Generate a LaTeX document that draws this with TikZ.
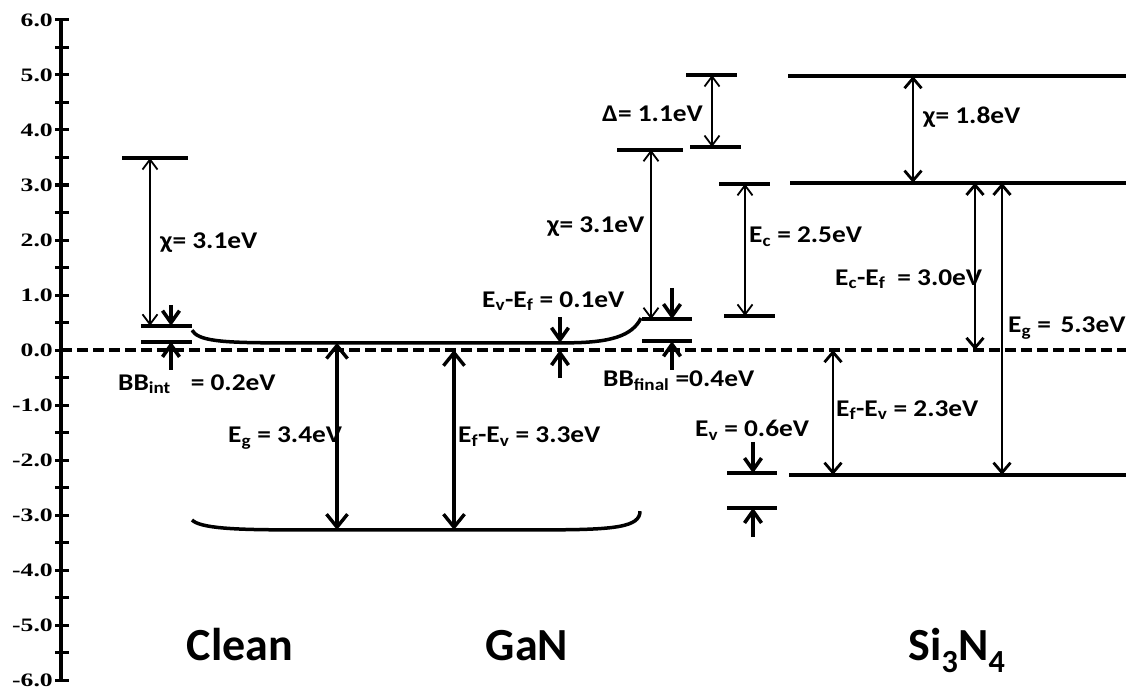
\documentclass[tikz,border=0pt]{standalone}
\usepackage{fontspec}
\setmainfont{Carlito}
\newfontfamily\lblfont[FakeStretch=1.14]{Carlito}
\newfontfamily\axfont[FakeStretch=1.35]{Liberation Serif}
\usetikzlibrary{arrows.meta}

\begin{document}
\begin{tikzpicture}[x=1pt,y=55pt,
    level/.style={line width=3.8pt},
    band/.style={line width=3.5pt},
    fermi/.style={line width=3.4pt,dash pattern=on 11pt off 5pt},
    thinarr/.style={{Straight Barb[length=10pt,width=15pt]}-{Straight Barb[length=10pt,width=15pt]},line width=1.8pt},
    bigarr/.style={{Straight Barb[length=13pt,width=21pt]}-{Straight Barb[length=13pt,width=21pt]},line width=3.4pt},
    siarr/.style={{Straight Barb[length=10pt,width=17pt]}-{Straight Barb[length=10pt,width=17pt]},line width=2.8pt},
    bbarr/.style={-{Straight Barb[length=12pt,width=17pt]},line width=3.6pt},
    lbl/.style={anchor=base west,inner sep=0pt,font=\lblfont\bfseries\fontsize{24}{28}\selectfont},
    mat/.style={anchor=base,inner sep=0pt,font=\bfseries\fontsize{46}{50}\selectfont},
    tick/.style={line width=3pt},
    ticklbl/.style={anchor=east,inner sep=0pt,font=\axfont\bfseries\fontsize{19}{21}\selectfont},
]
\useasboundingbox (0,-6.2) rectangle (1126,6.3636);

% energy scale
\coordinate (axTop) at (61,6);
\coordinate (axBot) at (61,-6);
\draw[line width=3.4pt] (axBot) -- (axTop);
\foreach \e in {-12,...,12}
  \draw[tick] (55,\e/2) -- (69,\e/2);
\foreach \e/\t in {6/6.0,5/5.0,4/4.0,3/3.0,2/2.0,1/1.0,0/0.0,-1/-1.0,-2/-2.0,-3/-3.0,-4/-4.0,-5/-5.0,-6/-6.0}
  \node[ticklbl] (ax\e) at (53,\e) {\t};

% Fermi level
\coordinate (efL) at (61,0);
\coordinate (efR) at (1126,0);
\draw[fermi] (efL) -- (efR);

% clean surface
\draw[level] (122,3.49) -- (188,3.49);
\draw[level] (141,0.44) -- (192,0.44);
\draw[level] (141,0.15) -- (192,0.15);
\coordinate (clVac) at (150,3.49);
\coordinate (clCB)  at (150,0.44);
\coordinate (clBBa) at (171,0.82);
\coordinate (clBBb) at (171,0.44);
\coordinate (clBBc) at (171,-0.36);
\coordinate (clBBd) at (171,0.15);
\draw[thinarr] (clVac) -- (clCB);
\draw[bbarr] (clBBa) -- (clBBb);
\draw[bbarr] (clBBc) -- (clBBd);

% GaN bands
\draw[band] (192,0.36) .. controls (198,0.17) and (220,0.13) .. (280,0.13)
  -- (565,0.13) .. controls (610,0.13) and (632,0.25) .. (641,0.58);
\draw[band] (192,-3.09) .. controls (200,-3.24) and (235,-3.27) .. (290,-3.27)
  -- (545,-3.27) .. controls (615,-3.27) and (640,-3.22) .. (640,-2.93);
\coordinate (gnCB)  at (337,0.13);
\coordinate (gnVB)  at (337,-3.27);
\coordinate (gnEf)  at (454,0);
\coordinate (gnVB2) at (454,-3.27);
\draw[bigarr] (gnCB) -- (gnVB);
\draw[bigarr] (gnEf) -- (gnVB2);
\coordinate (gnOfa) at (560,0.6);
\coordinate (gnOfb) at (560,0.13);
\coordinate (gnOfc) at (560,-0.51);
\coordinate (gnOfd) at (560,0);
\draw[bbarr] (gnOfa) -- (gnOfb);
\draw[bbarr] (gnOfc) -- (gnOfd);

% GaN after deposition
\draw[level] (642,0.56) -- (692,0.56);
\draw[level] (642,0.16) -- (692,0.16);
\draw[level] (617,3.64) -- (683,3.64);
\coordinate (gnVac) at (651,3.64);
\coordinate (gnCBs) at (651,0.56);
\draw[thinarr] (gnVac) -- (gnCBs);
\coordinate (fnBBa) at (672,1.13);
\coordinate (fnBBb) at (672,0.56);
\coordinate (fnBBc) at (672,-0.36);
\coordinate (fnBBd) at (672,0.16);
\draw[bbarr] (fnBBa) -- (fnBBb);
\draw[bbarr] (fnBBc) -- (fnBBd);

% offsets
\draw[level] (686,5.0) -- (737,5.0);
\draw[level] (690,3.69) -- (741,3.69);
\coordinate (dlTop) at (712,5.0);
\coordinate (dlBot) at (712,3.69);
\draw[thinarr] (dlTop) -- (dlBot);
\draw[level] (719,3.02) -- (770,3.02);
\draw[level] (724,0.62) -- (775,0.62);
\coordinate (ecTop) at (745,3.02);
\coordinate (ecBot) at (745,0.62);
\draw[thinarr] (ecTop) -- (ecBot);
\draw[level] (727,-2.24) -- (777,-2.24);
\draw[level] (727,-2.87) -- (777,-2.87);
\coordinate (evA) at (753,-1.67);
\coordinate (evB) at (753,-2.24);
\coordinate (evC) at (753,-3.4);
\coordinate (evD) at (753,-2.87);
\draw[bbarr] (evA) -- (evB);
\draw[bbarr] (evC) -- (evD);

% Si3N4
\draw[level] (788,4.98) -- (1126,4.98);
\draw[level] (790,3.04) -- (1126,3.04);
\draw[level] (789,-2.27) -- (1126,-2.27);
\coordinate (snVac) at (913,4.98);
\coordinate (snCB)  at (913,3.04);
\coordinate (snCB2) at (975,3.04);
\coordinate (snEf)  at (975,0);
\coordinate (snCB3) at (1002,3.04);
\coordinate (snVB3) at (1002,-2.27);
\coordinate (snEf4) at (833,0);
\coordinate (snVB4) at (833,-2.27);
\draw[siarr] (snVac) -- (snCB);
\draw[siarr] (snCB2) -- (snEf);
\draw[siarr] (snCB3) -- (snVB3);
\draw[siarr] (snEf4) -- (snVB4);

% labels
\node[lbl] (chiCl)  at (160,1.85)  {χ= 3.1eV};
\node[lbl] (bbInt)  at (118,-0.73) {BB\textsubscript{int}\hspace{20pt}= 0.2eV};
\node[lbl] (egGn)   at (228,-1.69) {E\textsubscript{g} = 3.4eV};
\node[lbl] (efevGn) at (458,-1.69) {E\textsubscript{f}-E\textsubscript{v} = 3.3eV};
\node[lbl] (evefGn) at (482,0.78)  {E\textsubscript{v}-E\textsubscript{f} = 0.1eV};
\node[lbl] (bbFin)  at (603,-0.67) {BB\textsubscript{final} =0.4eV};
\node[lbl] (chiGn)  at (547,2.13)  {χ= 3.1eV};
\node[lbl] (delta)  at (602,4.15)  {Δ= 1.1eV};
\node[lbl] (ecLbl)  at (749,1.95)  {E\textsubscript{c} = 2.5eV};
\node[lbl] (evLbl)  at (695,-1.58) {E\textsubscript{v} = 0.6eV};
\node[lbl] (chiSn)  at (923,4.11)  {χ= 1.8eV};
\node[lbl] (ecefSn) at (835,1.18)  {E\textsubscript{c}-E\textsubscript{f}\hspace{0.5em}= 3.0eV};
\node[lbl] (egSn)   at (1008,0.31) {E\textsubscript{g} =\hspace{0.4em}5.3eV};
\node[lbl] (efevSn) at (836,-1.2)  {E\textsubscript{f}-E\textsubscript{v} = 2.3eV};

\node[mat] (clean) at (240,-5.64) {Clean};
\node[mat] (gan)   at (527,-5.64) {GaN};
\node[mat] (sin)   at (957,-5.64) {Si\textsubscript{3}N\textsubscript{4}};
\end{tikzpicture}
\end{document}
